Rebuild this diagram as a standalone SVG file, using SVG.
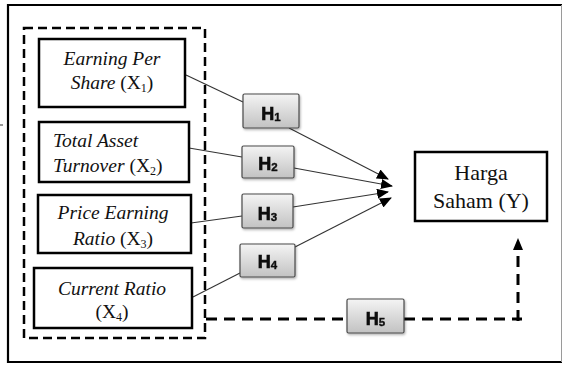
<svg xmlns="http://www.w3.org/2000/svg" width="563" height="367" viewBox="0 0 563 367">
  <style>
    .var { fill: #fff; stroke: #000; stroke-width: 2.5; }
    .lbl { font-family: "Liberation Serif", "Times New Roman", serif; font-size: 19.5px; fill: #111; font-style: italic; }
    .up { font-style: normal; }
    .sub { font-size: 12px; font-style: normal; }
    .dep { font-family: "Liberation Serif", "Times New Roman", serif; font-size: 22px; fill: #111; }
    .hyp { fill: url(#hypFill); stroke: #4a4a4a; stroke-width: 1.2; }
    .htxt { font-family: "Liberation Sans", Arial, sans-serif; font-weight: bold; font-size: 18px; fill: #111; stroke: #111; stroke-width: 0.7; }
    .hsub { font-size: 11.5px; stroke-width: 0.4; }
    .link { stroke: #333; stroke-width: 1.1; fill: none; }
    .dash { stroke: #000; stroke-width: 3; fill: none; stroke-dasharray: 11 7; }
  </style>
  <defs>
    <linearGradient id="hypFill" x1="0" y1="0" x2="0" y2="1">
      <stop offset="0" stop-color="#f4f4f4"/>
      <stop offset="1" stop-color="#c2c2c2"/>
    </linearGradient>
    <filter id="shadow" x="-20%" y="-20%" width="150%" height="150%">
      <feDropShadow dx="1" dy="1.5" stdDeviation="1" flood-color="#000" flood-opacity="0.3"/>
    </filter>
    <marker id="tip" viewBox="0 0 12 10" refX="11" refY="5" markerWidth="12" markerHeight="10" markerUnits="userSpaceOnUse" orient="auto">
      <path d="M0,0 L12,5 L0,10 Z" fill="#000"/>
    </marker>
  </defs>

  <rect width="563" height="367" fill="#fff"/>

  <!-- outer frame -->
  <g id="frame">
    <line x1="8" y1="5" x2="562" y2="5" stroke="#000" stroke-width="2.2"/>
    <line x1="8" y1="4" x2="8" y2="363" stroke="#000" stroke-width="2.2"/>
    <line x1="7" y1="362" x2="562" y2="362" stroke="#000" stroke-width="2.2"/>
    <line x1="561.5" y1="5" x2="561.5" y2="362" stroke="#9a9a9a" stroke-width="1"/>
    <line x1="0" y1="125" x2="3" y2="125" stroke="#333" stroke-width="1"/>
  </g>

  <!-- independent variable group -->
  <g id="group-x">
    <rect x="24" y="28" width="181" height="310" fill="none" stroke="#000" stroke-width="2.5" stroke-dasharray="9 5"/>
  </g>

  <!-- connectors -->
  <g id="connectors">
    <line class="link" x1="186" y1="75" x2="243" y2="102"/>
    <line class="link" x1="289" y1="128" x2="388" y2="179" marker-end="url(#tip)"/>
    <line class="link" x1="189" y1="148" x2="242" y2="157"/>
    <line class="link" x1="294" y1="168" x2="392" y2="186" marker-end="url(#tip)"/>
    <line class="link" x1="191" y1="223" x2="242" y2="216"/>
    <line class="link" x1="293" y1="207" x2="388" y2="192" marker-end="url(#tip)"/>
    <line class="link" x1="193" y1="297" x2="240" y2="273"/>
    <line class="link" x1="295" y1="247" x2="391" y2="198" marker-end="url(#tip)"/>
    <line class="dash" x1="206" y1="319" x2="347" y2="319"/>
    <polyline class="dash" points="404,319 522,319"/>
    <line class="dash" x1="518" y1="321" x2="518" y2="252"/>
    <path d="M518,238 L523,250 L513,250 Z" fill="#000"/>
  </g>

  <!-- X1 -->
  <g id="x1">
    <rect class="var" x="39" y="39" width="146" height="68"/>
    <text class="lbl" x="112" y="65" text-anchor="middle">Earning Per</text>
    <text class="lbl" x="112" y="89" text-anchor="middle">Share <tspan class="up">(X</tspan><tspan class="sub" dy="3">1</tspan><tspan class="up" dy="-3">)</tspan></text>
  </g>

  <!-- X2 -->
  <g id="x2">
    <rect class="var" x="39" y="122" width="150" height="60"/>
    <text class="lbl" x="53" y="147">Total Asset</text>
    <text class="lbl" x="53" y="172">Turnover <tspan class="up">(X</tspan><tspan class="sub" dy="3">2</tspan><tspan class="up" dy="-3">)</tspan></text>
  </g>

  <!-- X3 -->
  <g id="x3">
    <rect class="var" x="38" y="195" width="153" height="58"/>
    <text class="lbl" x="113" y="219" text-anchor="middle">Price Earning</text>
    <text class="lbl" x="113" y="245" text-anchor="middle">Ratio <tspan class="up">(X</tspan><tspan class="sub" dy="3">3</tspan><tspan class="up" dy="-3">)</tspan></text>
  </g>

  <!-- X4 -->
  <g id="x4">
    <rect class="var" x="34" y="268" width="158" height="60"/>
    <text class="lbl" x="112" y="295" text-anchor="middle">Current Ratio</text>
    <text class="lbl" x="112" y="318" text-anchor="middle"><tspan class="up">(X</tspan><tspan class="sub" dy="3">4</tspan><tspan class="up" dy="-3">)</tspan></text>
  </g>

  <!-- Y -->
  <g id="y">
    <rect class="var" x="415" y="152" width="132" height="69"/>
    <text class="dep" x="481" y="180" text-anchor="middle">Harga</text>
    <text class="dep" x="481" y="208" text-anchor="middle">Saham (Y)</text>
  </g>

  <!-- hypotheses -->
  <g id="h1" filter="url(#shadow)">
    <rect class="hyp" x="243" y="94" width="56" height="34" rx="1.5"/>
    <text class="htxt" x="271" y="120" text-anchor="middle">H<tspan class="hsub" dy="1">1</tspan></text>
  </g>
  <g id="h2" filter="url(#shadow)">
    <rect class="hyp" x="242" y="146" width="52" height="32" rx="1.5"/>
    <text class="htxt" x="268" y="170" text-anchor="middle">H<tspan class="hsub" dy="1">2</tspan></text>
  </g>
  <g id="h3" filter="url(#shadow)">
    <rect class="hyp" x="242" y="194" width="51" height="34" rx="1.5"/>
    <text class="htxt" x="267.5" y="220" text-anchor="middle">H<tspan class="hsub" dy="1">3</tspan></text>
  </g>
  <g id="h4" filter="url(#shadow)">
    <rect class="hyp" x="240" y="244" width="55" height="33" rx="1.5"/>
    <text class="htxt" x="267.5" y="268" text-anchor="middle">H<tspan class="hsub" dy="1">4</tspan></text>
  </g>
  <g id="h5" filter="url(#shadow)">
    <rect class="hyp" x="347" y="299" width="57" height="34" rx="1.5"/>
    <text class="htxt" x="375.5" y="325" text-anchor="middle">H<tspan class="hsub" dy="1">5</tspan></text>
  </g>
</svg>
